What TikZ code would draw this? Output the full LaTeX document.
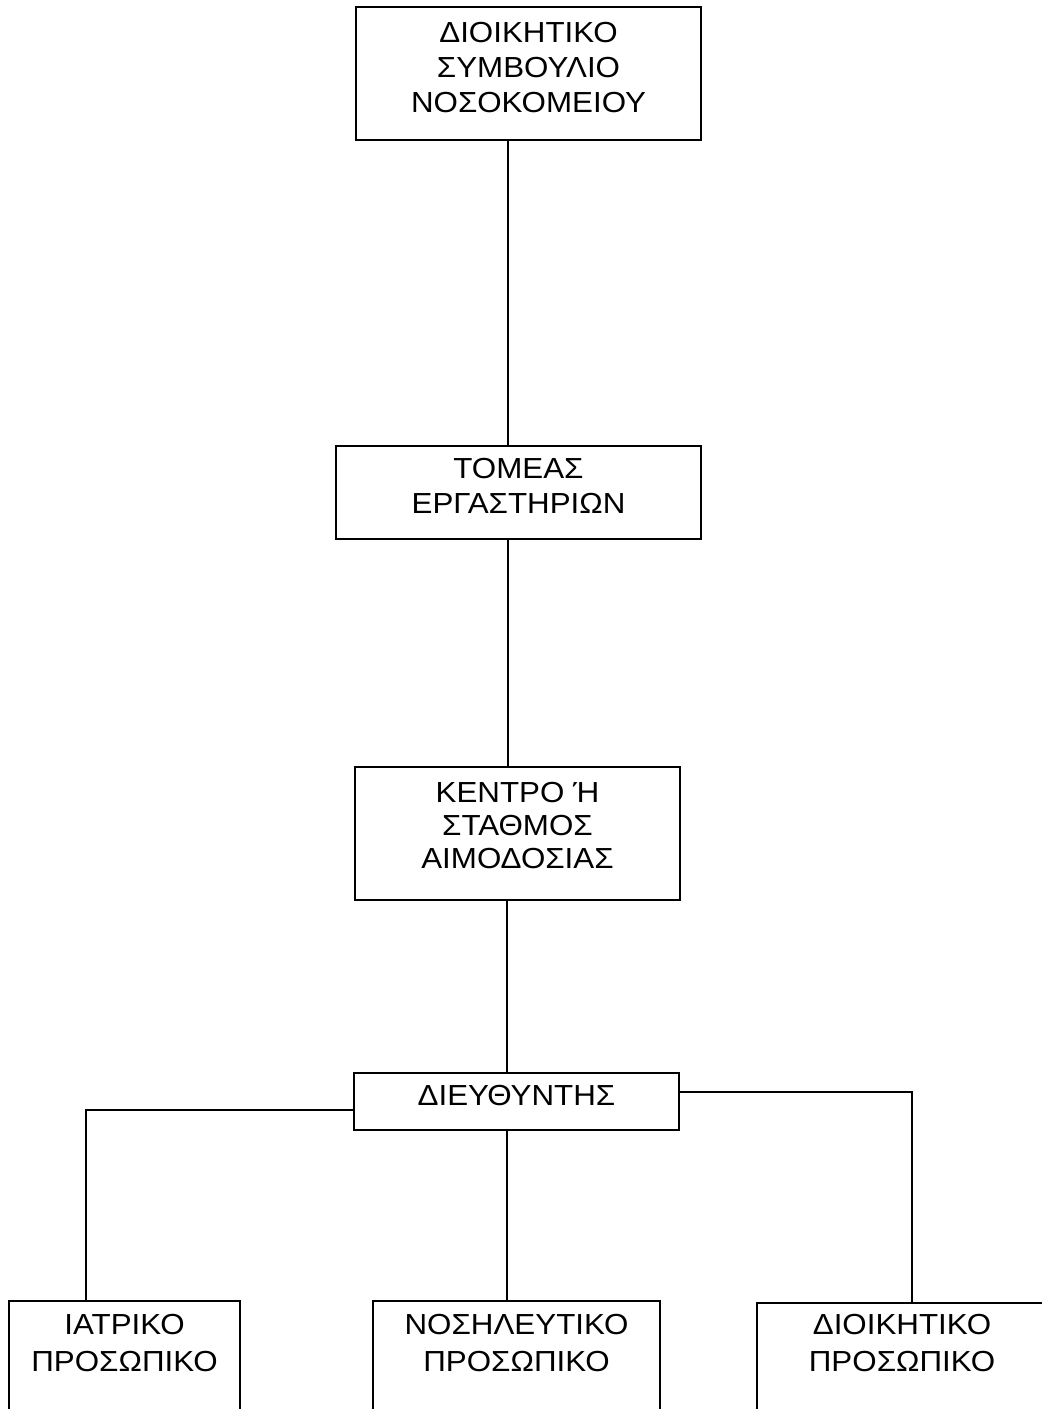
\documentclass[tikz,border=0pt]{standalone}
\usepackage{fontspec}
\setmainfont{Liberation Sans}[FakeStretch=1.08]
\newcommand{\bxt}[5]{\parbox[c][#1][t]{#2}{\centering\fontsize{29}{#4}\selectfont\vspace*{#3}#5\par}}
\begin{document}
\begin{tikzpicture}[x=1pt,y=-1pt,
  box/.style={draw, line width=1.8pt, inner sep=0pt},
  link/.style={line width=1.8pt}]
\useasboundingbox (0,0) rectangle (1042,1409);
\clip (0,0) rectangle (1042,1409);
\node[box] (top) at (528.5,73.5) {\bxt{133pt}{345pt}{15pt}{35pt}{ΔΙΟΙΚΗΤΙΚΟ\\ΣΥΜΒΟΥΛΙΟ\\ΝΟΣΟΚΟΜΕΙΟΥ}};
\node[box] (tom) at (518.5,492.5) {\bxt{93pt}{365pt}{12pt}{35pt}{ΤΟΜΕΑΣ\\ΕΡΓΑΣΤΗΡΙΩΝ}};
\node[box] (ken) at (517.5,833.5) {\bxt{133pt}{325pt}{15pt}{33pt}{ΚΕΝΤΡΟ Ή\\ΣΤΑΘΜΟΣ\\ΑΙΜΟΔΟΣΙΑΣ}};
\node[box] (dir) at (516.5,1101.5) {\bxt{57pt}{325pt}{12pt}{35pt}{ΔΙΕΥΘΥΝΤΗΣ}};
\node[box, anchor=north] (iat) at (124.5,1300) {\bxt{160pt}{231pt}{13pt}{37pt}{ΙΑΤΡΙΚΟ\\ΠΡΟΣΩΠΙΚΟ}};
\node[box, anchor=north] (nos) at (516.5,1300) {\bxt{160pt}{287pt}{13pt}{37pt}{ΝΟΣΗΛΕΥΤΙΚΟ\\ΠΡΟΣΩΠΙΚΟ}};
\node[box, anchor=north] (dio) at (902,1302) {\bxt{160pt}{290pt}{11pt}{37pt}{ΔΙΟΙΚΗΤΙΚΟ\\ΠΡΟΣΩΠΙΚΟ}};
\coordinate (c1) at (508,0);
\coordinate (c2) at (507,0);
\coordinate (yl) at (0,1110);
\coordinate (yr) at (0,1092);
\coordinate (xl) at (86,0);
\coordinate (xr) at (912,0);
\draw[link] (top.south -| c1) -- (tom.north -| c1);
\draw[link] (tom.south -| c1) -- (ken.north -| c1);
\draw[link] (ken.south -| c2) -- (dir.north -| c2);
\draw[link] (dir.south -| c2) -- (nos.north -| c2);
\draw[link] (dir.west |- yl) -| (iat.north -| xl);
\draw[link] (dir.east |- yr) -| (dio.north -| xr);
\end{tikzpicture}
\end{document}
